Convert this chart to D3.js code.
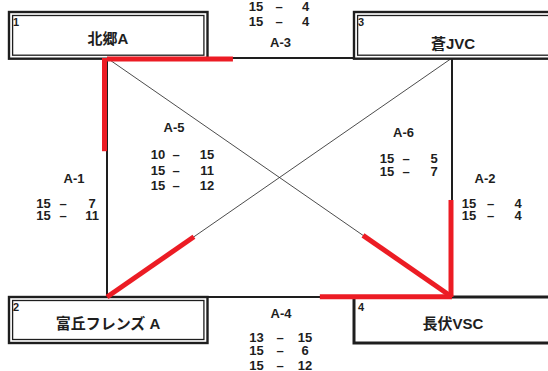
<!DOCTYPE html>
<html><head><meta charset="utf-8">
<script src="https://cdn.jsdelivr.net/npm/d3@7"></script>
<style>html,body{margin:0;padding:0;background:#fff;} svg{display:block}</style>
</head><body>
<script>
// ---------- data ----------
const teamNumbers = ["1", "2", "3", "4"];
const teamNames = ["北郷A", "富丘フレンズ A", "蒼JVC", "長伏VSC"];
const teamGrid = [[0, 0], [0, 1], [1, 0], [1, 1]]; // column,row of each team in the league square
const matchIds = ["A-1", "A-2", "A-3", "A-4", "A-5", "A-6"];
const matchPairs = [[1, 2], [3, 4], [1, 3], [2, 4], [2, 3], [1, 4]];
const matchWinners = [1, 4, 1, 4, 2, 4];
const scoresA1 = [[15, 7], [15, 11]];
const scoresA2 = [[15, 4], [15, 4]];
const scoresA3 = [[15, 4], [15, 4]];
const scoresA4 = [[13, 15], [15, 6], [15, 12]];
const scoresA5 = [[10, 15], [15, 11], [15, 12]];
const scoresA6 = [[15, 5], [15, 7]];
const matchScores = [scoresA1, scoresA2, scoresA3, scoresA4, scoresA5, scoresA6];

// ---------- layout ----------
const W = 548, H = 371;
const x = d3.scaleLinear().domain([0, 1]).range([107, 452]);
const y = d3.scaleLinear().domain([0, 1]).range([58, 297]);
// share of each edge highlighted from the winner's node, and perpendicular nudge
const highlightShare = [0.39, 0.406, 0.365, 0.383, 0.252, 0.258];
const highlightNudge = [[-2.5, 0], [-1, 0], [0, 1], [0, -0.3], [0, 0], [0, 0]];
// label placement (pixels)
const idPos = [[74, 178], [485, 178], [280.5, 42.5], [281, 313], [174, 127], [403.5, 132.5]];
const rowPos = [[203, 215.5], [203, 215.5], [6, 21], [337, 350.5, 365], [154, 170, 185], [158, 171]];
const colPos = [[43.5, 63, 92], [469, 490.5, 518], [256, 279, 305.5], [256.5, 280, 305], [158, 176, 207], [387, 406, 434]];

const FONT = "'Liberation Sans','Noto Sans CJK JP',Arial,sans-serif";
const INK = "#1e1e1e";
const RED = "#ec1c24";

const svg = d3.select("body").append("svg").attr("width", W).attr("height", H)
  .style("font-family", FONT);

const node = i => [x(teamGrid[i - 1][0]), y(teamGrid[i - 1][1])];

// edges
const edges = svg.append("g");
matchPairs.forEach((p, i) => {
  const a = node(p[0]), b = node(p[1]);
  const diag = a[0] !== b[0] && a[1] !== b[1];
  edges.append("line")
    .attr("x1", a[0]).attr("y1", a[1]).attr("x2", b[0]).attr("y2", b[1])
    .attr("stroke", INK).attr("stroke-width", diag ? 0.8 : 2);
});

// team boxes
const boxW = 198.5;
const boxes = svg.append("g");
teamNames.forEach((name, i) => {
  const [cx, cy] = node(i + 1);
  const top = teamGrid[i][1] === 0;
  const bx = cx - 98;
  const by = top ? 12 : cy;
  const bh = top ? cy + 0.7 - 12 : 46;
  const g = boxes.append("g");
  const double = i !== 3;
  g.append("rect").attr("x", bx).attr("y", by).attr("width", boxW).attr("height", bh)
    .attr("fill", "#fff").attr("stroke", INK).attr("stroke-width", double ? 2.4 : 3);
  if (double) {
    g.append("rect").attr("x", bx + 3.6).attr("y", by + 3.5).attr("width", boxW - 7.2).attr("height", bh - 7)
      .attr("fill", "none").attr("stroke", INK).attr("stroke-width", 1.3);
  }
  g.append("text").attr("x", bx + 4).attr("y", by + 10).attr("dominant-baseline", "central")
    .attr("font-size", 11).attr("font-weight", "bold").attr("fill", INK).text(teamNumbers[i]);
  g.append("text").attr("x", cx + 1).attr("y", by + (i === 2 ? 31 : 26.5))
    .attr("dominant-baseline", "central").attr("text-anchor", "middle")
    .attr("font-size", 15).attr("font-weight", "bold").attr("fill", INK).text(name);
});

// winner highlights
const red = svg.append("g");
matchPairs.forEach((p, i) => {
  const w = matchWinners[i];
  const l = p[0] === w ? p[1] : p[0];
  const a = node(w), b = node(l);
  const t = highlightShare[i];
  const [dx, dy] = highlightNudge[i];
  red.append("line")
    .attr("x1", a[0] + dx).attr("y1", a[1] + dy)
    .attr("x2", a[0] + (b[0] - a[0]) * t + dx).attr("y2", a[1] + (b[1] - a[1]) * t + dy)
    .attr("stroke", RED).attr("stroke-width", 5);
});

// match labels and scores
const labels = svg.append("g").attr("font-weight", "bold").attr("fill", INK)
  .attr("text-anchor", "middle").attr("dominant-baseline", "central");
matchIds.forEach((id, i) => {
  labels.append("text").attr("x", idPos[i][0]).attr("y", idPos[i][1])
    .attr("font-size", 13).text(id);
  matchScores[i].forEach((s, r) => {
    const yy = rowPos[i][r];
    labels.append("text").attr("x", colPos[i][0]).attr("y", yy).attr("font-size", 13).text(s[0]);
    labels.append("text").attr("x", colPos[i][1]).attr("y", yy).attr("font-size", 13).text("–");
    labels.append("text").attr("x", colPos[i][2]).attr("y", yy).attr("font-size", 13).text(s[1]);
  });
});
</script>
</body></html>
